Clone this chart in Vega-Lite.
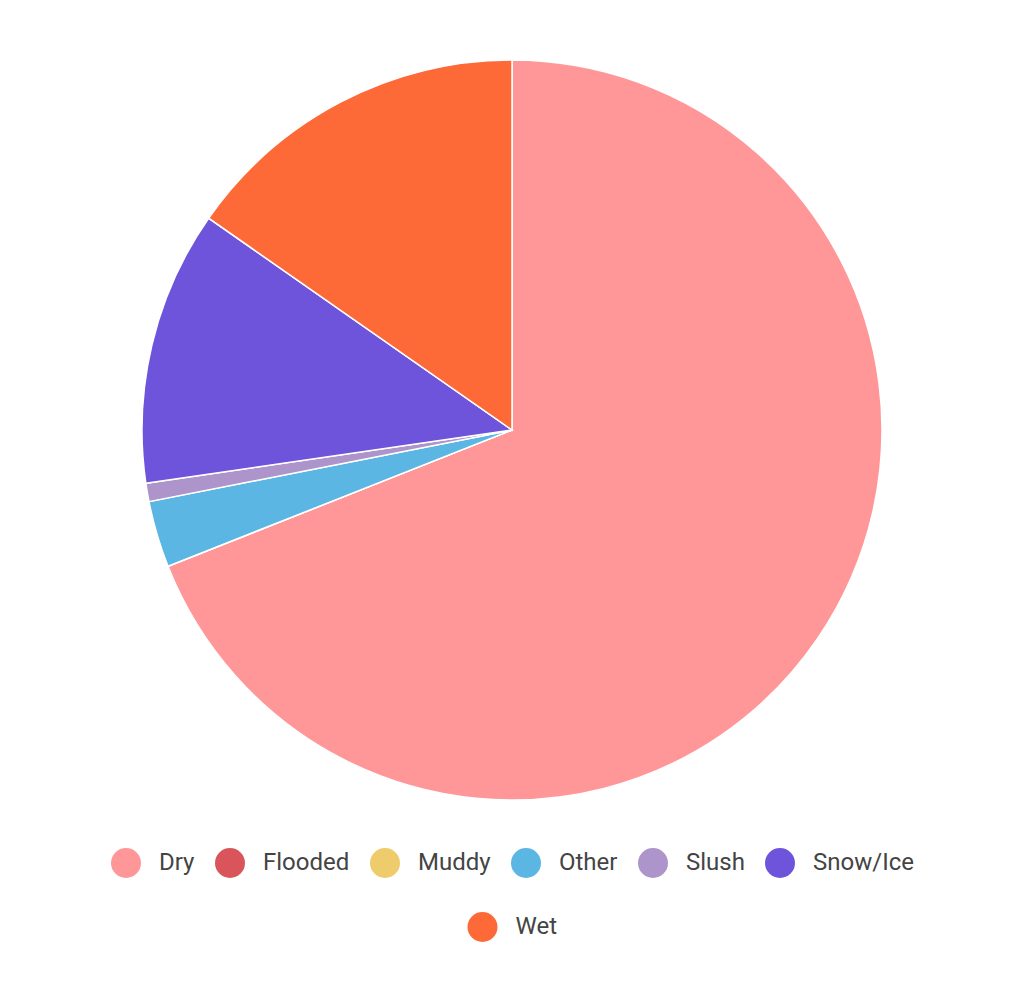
{
  "$schema": "https://vega.github.io/schema/vega-lite/v6.json",
  "width": 1024,
  "height": 860,
  "padding": 0,
  "background": "white",
  "data": {
    "values": [
      {"condition": "Dry", "count": 690},
      {"condition": "Flooded", "count": 0},
      {"condition": "Muddy", "count": 0},
      {"condition": "Other", "count": 29},
      {"condition": "Slush", "count": 8},
      {"condition": "Snow/Ice", "count": 120},
      {"condition": "Wet", "count": 153}
    ]
  },
  "encoding": {
    "theta": {"field": "count", "type": "quantitative", "stack": true}
  },
  "layer": [
    {
      "mark": {"type": "arc", "outerRadius": 370, "stroke": "white", "strokeWidth": 1.5},
      "encoding": {
        "color": {
          "field": "condition",
          "type": "nominal",
          "scale": {
            "domain": ["Dry", "Flooded", "Muddy", "Other", "Slush", "Snow/Ice", "Wet"],
            "range": ["#ff9798", "#d9555b", "#efcc6b", "#5bb6e4", "#ad94cb", "#6d54db", "#fd6a37"]
          },
          "legend": {
            "title": null,
            "orient": "bottom",
            "offset": -12,
            "values": ["Dry", "Flooded", "Muddy", "Other", "Slush", "Snow/Ice"]
          }
        }
      }
    },
    {
      "mark": {"type": "arc", "outerRadius": 370, "fillOpacity": 0, "strokeWidth": 0},
      "encoding": {
        "fill": {
          "field": "condition",
          "type": "nominal",
          "scale": {"domain": ["Wet"], "range": ["#fd6a37"]},
          "legend": {"title": null, "orient": "bottom", "offset": -12, "symbolOpacity": 1, "symbolFillColor": "#fd6a37"}
        }
      }
    }
  ],
  "config": {
    "view": {"stroke": null},
    "legend": {
      "symbolType": "circle",
      "symbolSize": 900,
      "symbolStrokeWidth": 0,
      "labelFont": "Roboto",
      "labelFontSize": 24,
      "labelColor": "#444444",
      "labelOffset": 18,
      "columnPadding": 20,
      "layout": {"bottom": {"anchor": "middle", "direction": "vertical", "center": true, "margin": 34}}
    }
  }
}
